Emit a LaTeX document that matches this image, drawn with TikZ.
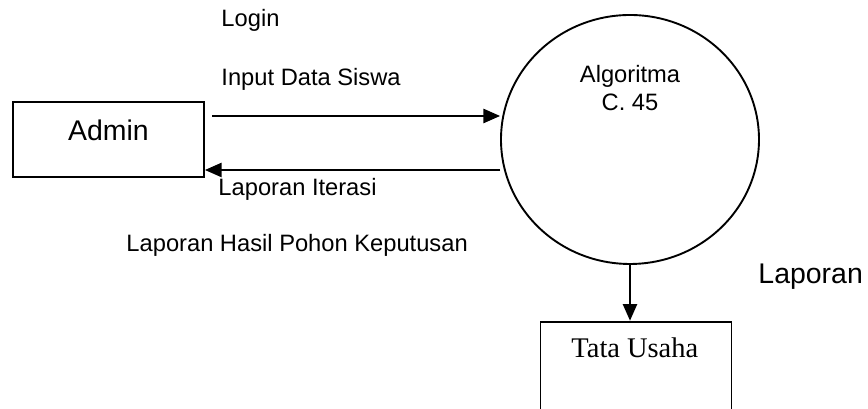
\documentclass[tikz,border=0pt]{standalone}
\usepackage{fontspec}
\setmainfont{Liberation Sans}
\newfontfamily\timesfont{Liberation Serif}
\usetikzlibrary{arrows.meta,shapes.geometric}

\tikzset{
  flow/.style={draw=black, line width=0.7pt,
    -{Triangle[length=7pt,width=6pt]}},
  entity/.style={draw=black, line width=0.8pt, rectangle, inner sep=0pt,
    minimum width=80.6pt, minimum height=31.6pt},
  process/.style={draw=black, line width=0.8pt, ellipse, inner sep=0pt,
    minimum width=108.85pt, minimum height=105.05pt},
  small/.style={inner sep=0pt, anchor=base west, font=\fontsize{10}{12}\selectfont},
  big/.style={inner sep=0pt, anchor=base west, font=\fontsize{12}{14}\selectfont},
}

\begin{document}
\begin{tikzpicture}[x=0.4219pt, y=-0.4219pt]
  \useasboundingbox (0,0) rectangle (868,409);
  \clip (0,0) rectangle (868,409);

  % external entity and process
  \node[entity] (admin) at (108.5,139.5) {};
  \node[inner sep=0pt, anchor=base, font=\fontsize{12}{14}\selectfont] (admintext) at (108.5,140.7) {Admin};
  \node[process] (alg) at (630,139.5) {};
  \node[inner sep=0pt, anchor=base, align=center, font=\fontsize{10}{12}\selectfont] (algtext) at (630,110.7) {Algoritma\\C. 45};

  % data store (open at the bottom edge)
  \node[entity, minimum height=42.2pt, anchor=north] (tu) at (636,320.7) {};
  \node[inner sep=0pt, anchor=base west, font=\timesfont\fontsize{12}{14}\selectfont] (tutext) at (571,358) {Tata Usaha};

  % flows
  \coordinate (inS) at (212,116);
  \coordinate (outS) at (500,170);
  \draw[flow] (inS) -- (alg.west |- inS);
  \draw[flow] (outS) -- (admin.east |- outS);
  \draw[flow] (alg.south) -- (alg.south |- tu.north);

  % flow labels
  \node[small] (lLogin) at (221,27) {Login};
  \node[small] (lInput) at (221,86) {Input Data Siswa};
  \node[small] (lIter) at (218,195.7) {Laporan Iterasi};
  \node[small] (lHasil) at (126,252) {Laporan Hasil Pohon Keputusan};
  \node[big] (lLap) at (758,284) {Laporan};
\end{tikzpicture}
\end{document}
